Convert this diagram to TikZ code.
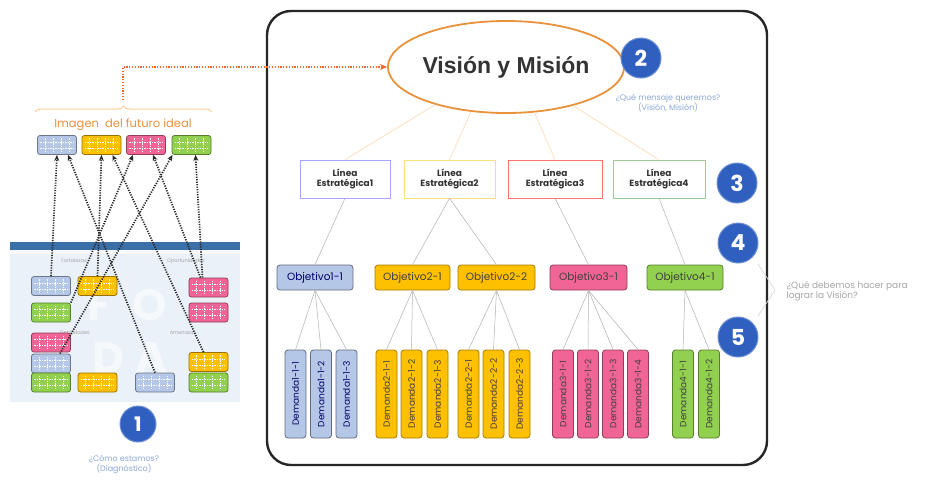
\documentclass[tikz,border=0pt]{standalone}
\usepackage{fontspec}
\setmainfont{Poppins}
\newfontfamily\visfont{Liberation Sans}
\usetikzlibrary{calc,arrows.meta,decorations.pathreplacing,shapes.geometric}
\definecolor{cblue}{HTML}{B4C7E7}
\definecolor{cyel}{HTML}{FFC000}
\definecolor{cpink}{HTML}{F06595}
\definecolor{cgreen}{HTML}{92D050}
\definecolor{numblue}{HTML}{2F5FBF}
\definecolor{orline}{HTML}{E8923C}
\definecolor{qtext}{HTML}{8CA8D8}
\definecolor{panelbg}{HTML}{EAF1F8}
\definecolor{panelbar}{HTML}{3B6FA8}
\newcommand\mkcard[4]{%
  \node[card, fill=#4, draw=#4!60!black] (#1) at (#2,#3) {};
  \foreach \f in {0.2,0.4,0.6,0.8}
    \draw[gridln] ($(#1.north west)!\f!(#1.north east)+(0,3)$) -- ($(#1.south west)!\f!(#1.south east)+(0,-3)$);
  \foreach \f in {0.35,0.65}
    \draw[gridln] ($(#1.north west)!\f!(#1.south west)+(3,0)$) -- ($(#1.north east)!\f!(#1.south east)+(-3,0)$);
}
\begin{document}
\begin{tikzpicture}[x=1pt,y=-1pt,
  card/.style={rectangle, rounded corners=2.5pt, minimum width=39pt, minimum height=19pt, inner sep=0pt, line width=0.8pt},
  gridln/.style={white, line width=0.6pt, dash pattern=on 1.5pt off 1pt},
  num/.style={circle, fill=numblue, draw=numblue!70!white, line width=1pt, minimum size=40pt, inner sep=0pt, text=white, font=\bfseries\fontsize{22}{22}\selectfont},
  linea/.style={rectangle, draw, line width=0.6pt, minimum height=38pt, inner sep=1pt, align=center, font=\bfseries\fontsize{9}{10.5}\selectfont, text=black!80},
  obj/.style={rectangle, rounded corners=3pt, line width=0.8pt, minimum height=25pt, inner sep=1pt, font=\fontsize{10.5}{11}\selectfont},
  dem/.style={rectangle, rounded corners=3pt, line width=0.8pt, rotate=90, minimum width=88pt, minimum height=21pt, inner sep=0pt, font=\fontsize{9}{9}\selectfont},
  conn/.style={gray!60, line width=0.5pt},
  vconn/.style={orange!25, line width=0.8pt},
  darr/.style={black!85, line width=1.7pt, dash pattern=on 1.2pt off 1.3pt, -{Stealth[length=6pt,width=5pt]}},
  qlabel/.style={text=qtext, font=\fontsize{8}{10}\selectfont, align=center},
  wmark/.style={font=\bfseries\fontsize{44}{44}\selectfont, text=white!55!panelbg}
]
\useasboundingbox (0,0) rectangle (933,482);
\fill[white] (0,0) rectangle (933,482);

% ---------- big frame ----------
\draw[black!85, line width=2.4pt, rounded corners=24pt] (267,11) rectangle (767,465);

% ---------- vision ellipse ----------
\node[ellipse, draw=orline, line width=1.8pt, minimum width=208pt, minimum height=92pt, inner sep=0pt,
      font=\visfont\bfseries\fontsize{23}{23}\selectfont, text=black!80] (vm) at (506,67) {Visión y Misión};
\node[num] (n2) at (641,58) {2};
\node[qlabel] (q2) at (668,103) {¿Qué mensaje queremos?\\(Visión, Misión)};

% ---------- lineas ----------
\node[linea, draw=blue!35, minimum width=90pt] (l1) at (345,179) {Línea\\Estratégica1};
\node[linea, draw=yellow!60!orange!50, minimum width=91pt] (l2) at (449.5,179) {Línea\\Estratégica2};
\node[linea, draw=red!55, minimum width=94pt] (l3) at (555,179) {Línea\\Estratégica3};
\node[linea, draw=green!50!black!40, minimum width=92pt] (l4) at (659,179) {Línea\\Estratégica4};
\node[num] (n3) at (737,183) {3};
\node[num] (n4) at (738,243) {4};
\node[num] (n5) at (738,337) {5};

\draw[vconn] (vm.-152) -- (l1.north);
\draw[vconn] (vm.-128) -- (l2.north);
\draw[vconn] (vm.-58) -- (l3.north);
\draw[vconn] (vm.-30) -- (l4.north);

% ---------- objetivos ----------
\node[obj, fill=cblue, draw=cblue!55!black, text=blue!40!black, minimum width=76pt] (o11) at (315,277.5) {Objetivo1-1};
\node[obj, fill=cyel, draw=cyel!65!black, text=black!75, minimum width=75pt] (o21) at (412.5,277.5) {Objetivo2-1};
\node[obj, fill=cyel, draw=cyel!65!black, text=black!75, minimum width=77pt] (o22) at (496.5,277.5) {Objetivo2-2};
\node[obj, fill=cpink, draw=cpink!60!black, text=black!75, minimum width=77pt] (o31) at (588.5,277.5) {Objetivo3-1};
\node[obj, fill=cgreen, draw=cgreen!60!black, text=black!75, minimum width=76pt] (o41) at (685,277.5) {Objetivo4-1};

\draw[conn] (l1.south) -- (o11.north);
\draw[conn] (l2.south) -- (o21.north);
\draw[conn] (l2.south) -- (o22.north);
\draw[conn] (l3.south) -- (o31.north);
\draw[conn] (l4.south) -- (o41.north);

% ---------- demandas ----------
\foreach \n/\x/\t in {d111/295.5/Demanda1-1-1, d112/321/Demanda1-1-2, d113/346.5/Demanda1-1-3}
  \node[dem, fill=cblue, draw=cblue!55!black, text=blue!40!black] (\n) at (\x,394) {\t};
\foreach \n/\x/\t in {d211/386.5/Demanda2-1-1, d212/411.5/Demanda2-1-2, d213/437.5/Demanda2-1-3,
                      d221/468.5/Demanda2-2-1, d222/493.5/Demanda2-2-2, d223/519.5/Demanda2-2-3}
  \node[dem, fill=cyel, draw=cyel!65!black, text=black!75] (\n) at (\x,394) {\t};
\foreach \n/\x/\t in {d311/563/Demanda3-1-1, d312/588/Demanda3-1-2, d313/613/Demanda3-1-3, d314/638/Demanda3-1-4}
  \node[dem, fill=cpink, draw=cpink!60!black, text=black!75] (\n) at (\x,394) {\t};
\foreach \n/\x/\t in {d411/683/Demanda4-1-1, d412/709/Demanda4-1-2}
  \node[dem, fill=cgreen, draw=cgreen!60!black, text=black!75] (\n) at (\x,394) {\t};

\foreach \d in {d111,d112,d113} \draw[conn] (o11.south) -- (\d.east);
\foreach \d in {d211,d212,d213} \draw[conn] (o21.south) -- (\d.east);
\foreach \d in {d221,d222,d223} \draw[conn] (o22.south) -- (\d.east);
\foreach \d in {d311,d312,d313,d314} \draw[conn] (o31.south) -- (\d.east);
\foreach \d in {d411,d412} \draw[conn] (o41.south) -- (\d.east);

% ---------- right bracket and question ----------
\coordinate (bk1) at (758,264);
\coordinate (bk2) at (775,290);
\coordinate (bk3) at (758,316);
\draw[gray!30, line width=0.7pt] (bk1) -- (bk2) -- (bk3);
\node[qlabel, align=left, anchor=west, text=black!35, font=\fontsize{9}{9.5}\selectfont] (q45) at (783,291) {¿Qué debemos hacer para\\lograr la Visión?};

% ---------- left: ideal future ----------
\coordinate (bl) at (35,112);
\coordinate (br) at (212,112);
\draw[orange!40, line width=1pt, decorate, decoration={brace, amplitude=6pt}] (bl) -- (br);
\coordinate (btip) at (123,100);
\draw[orline!70!red, line width=1.6pt, dash pattern=on 1.2pt off 1.6pt, -{Stealth[length=7pt,width=6pt]}] (btip) |- (vm.west);
\node[text=orline, font=\fontsize{11.5}{12}\selectfont] (ifi) at (123,125) {Imagen\ \ del futuro ideal};

\mkcard{tB}{57}{145}{cblue}
\mkcard{tY}{101.5}{145}{cyel}
\mkcard{tP}{146}{145}{cpink}
\mkcard{tG}{191.5}{145}{cgreen}

% ---------- left: diagnostic panel ----------
\fill[panelbg] (10,242) rectangle (240,402);
\fill[panelbar] (10,242) rectangle (240,250);
\fill[white!60!panelbg] (10,250) rectangle (240,254);
\node[wmark] (wF) at (100,305) {F};
\node[wmark] (wO) at (150,305) {O};
\node[wmark] (wD) at (108,358) {D};
\node[wmark] (wA) at (152,358) {A};
\node[font=\fontsize{5}{5}\selectfont, text=gray!70] (fz) at (74,261) {Fortalezas};
\node[font=\fontsize{5}{5}\selectfont, text=gray!70] (op) at (186,261) {Oportunidades};
\node[font=\fontsize{5}{5}\selectfont, text=gray!70] (db) at (75,333) {Debilidades};
\node[font=\fontsize{5}{5}\selectfont, text=gray!70] (am) at (183,333) {Amenazas};

\mkcard{bA}{51}{286}{cblue}
\mkcard{yA}{97.5}{286}{cyel}
\mkcard{gA}{51}{312.5}{cgreen}
\mkcard{pR1}{208.5}{287.5}{cpink}
\mkcard{pR2}{208.5}{312.5}{cpink}
\mkcard{pB}{51}{342.5}{cpink}
\mkcard{bB}{51}{363.5}{cblue}
\mkcard{gB}{51}{382.5}{cgreen}
\mkcard{yB}{97.5}{382.5}{cyel}
\mkcard{bC}{155}{382.5}{cblue}
\mkcard{yR}{208.5}{362}{cyel}
\mkcard{gR}{208.5}{382.5}{cgreen}

% dotted arrows to the ideal future
\draw[darr] (bA.north) -- (tB.south);
\draw[darr] (bC.north) -- ($(tB.south)+(11,0)$);
\draw[darr] (yA.north) -- (tY.south);
\draw[darr] ($(yR.north)+(-5,0)$) -- ($(tY.south)+(11,0)$);
\draw[darr] (gA.north east) -- ($(tP.south)+(-13,0)$);
\draw[darr] ($(pR1.north)+(-8,0)$) -- ($(tP.south)+(7,0)$);
\draw[darr] ($(bB.north)+(9,0)$) -- ($(tG.south)+(-19,0)$);
\draw[darr] ($(pR1.north)+(-6,0)$) -- ($(tG.south)+(4,0)$);

\node[num, minimum size=36pt, font=\bfseries\fontsize{20}{20}\selectfont] (n1) at (138,424) {1};
\node[qlabel] (q1) at (124,464) {¿Cómo estamos?\\(Diagnóstico)};
\end{tikzpicture}
\end{document}
